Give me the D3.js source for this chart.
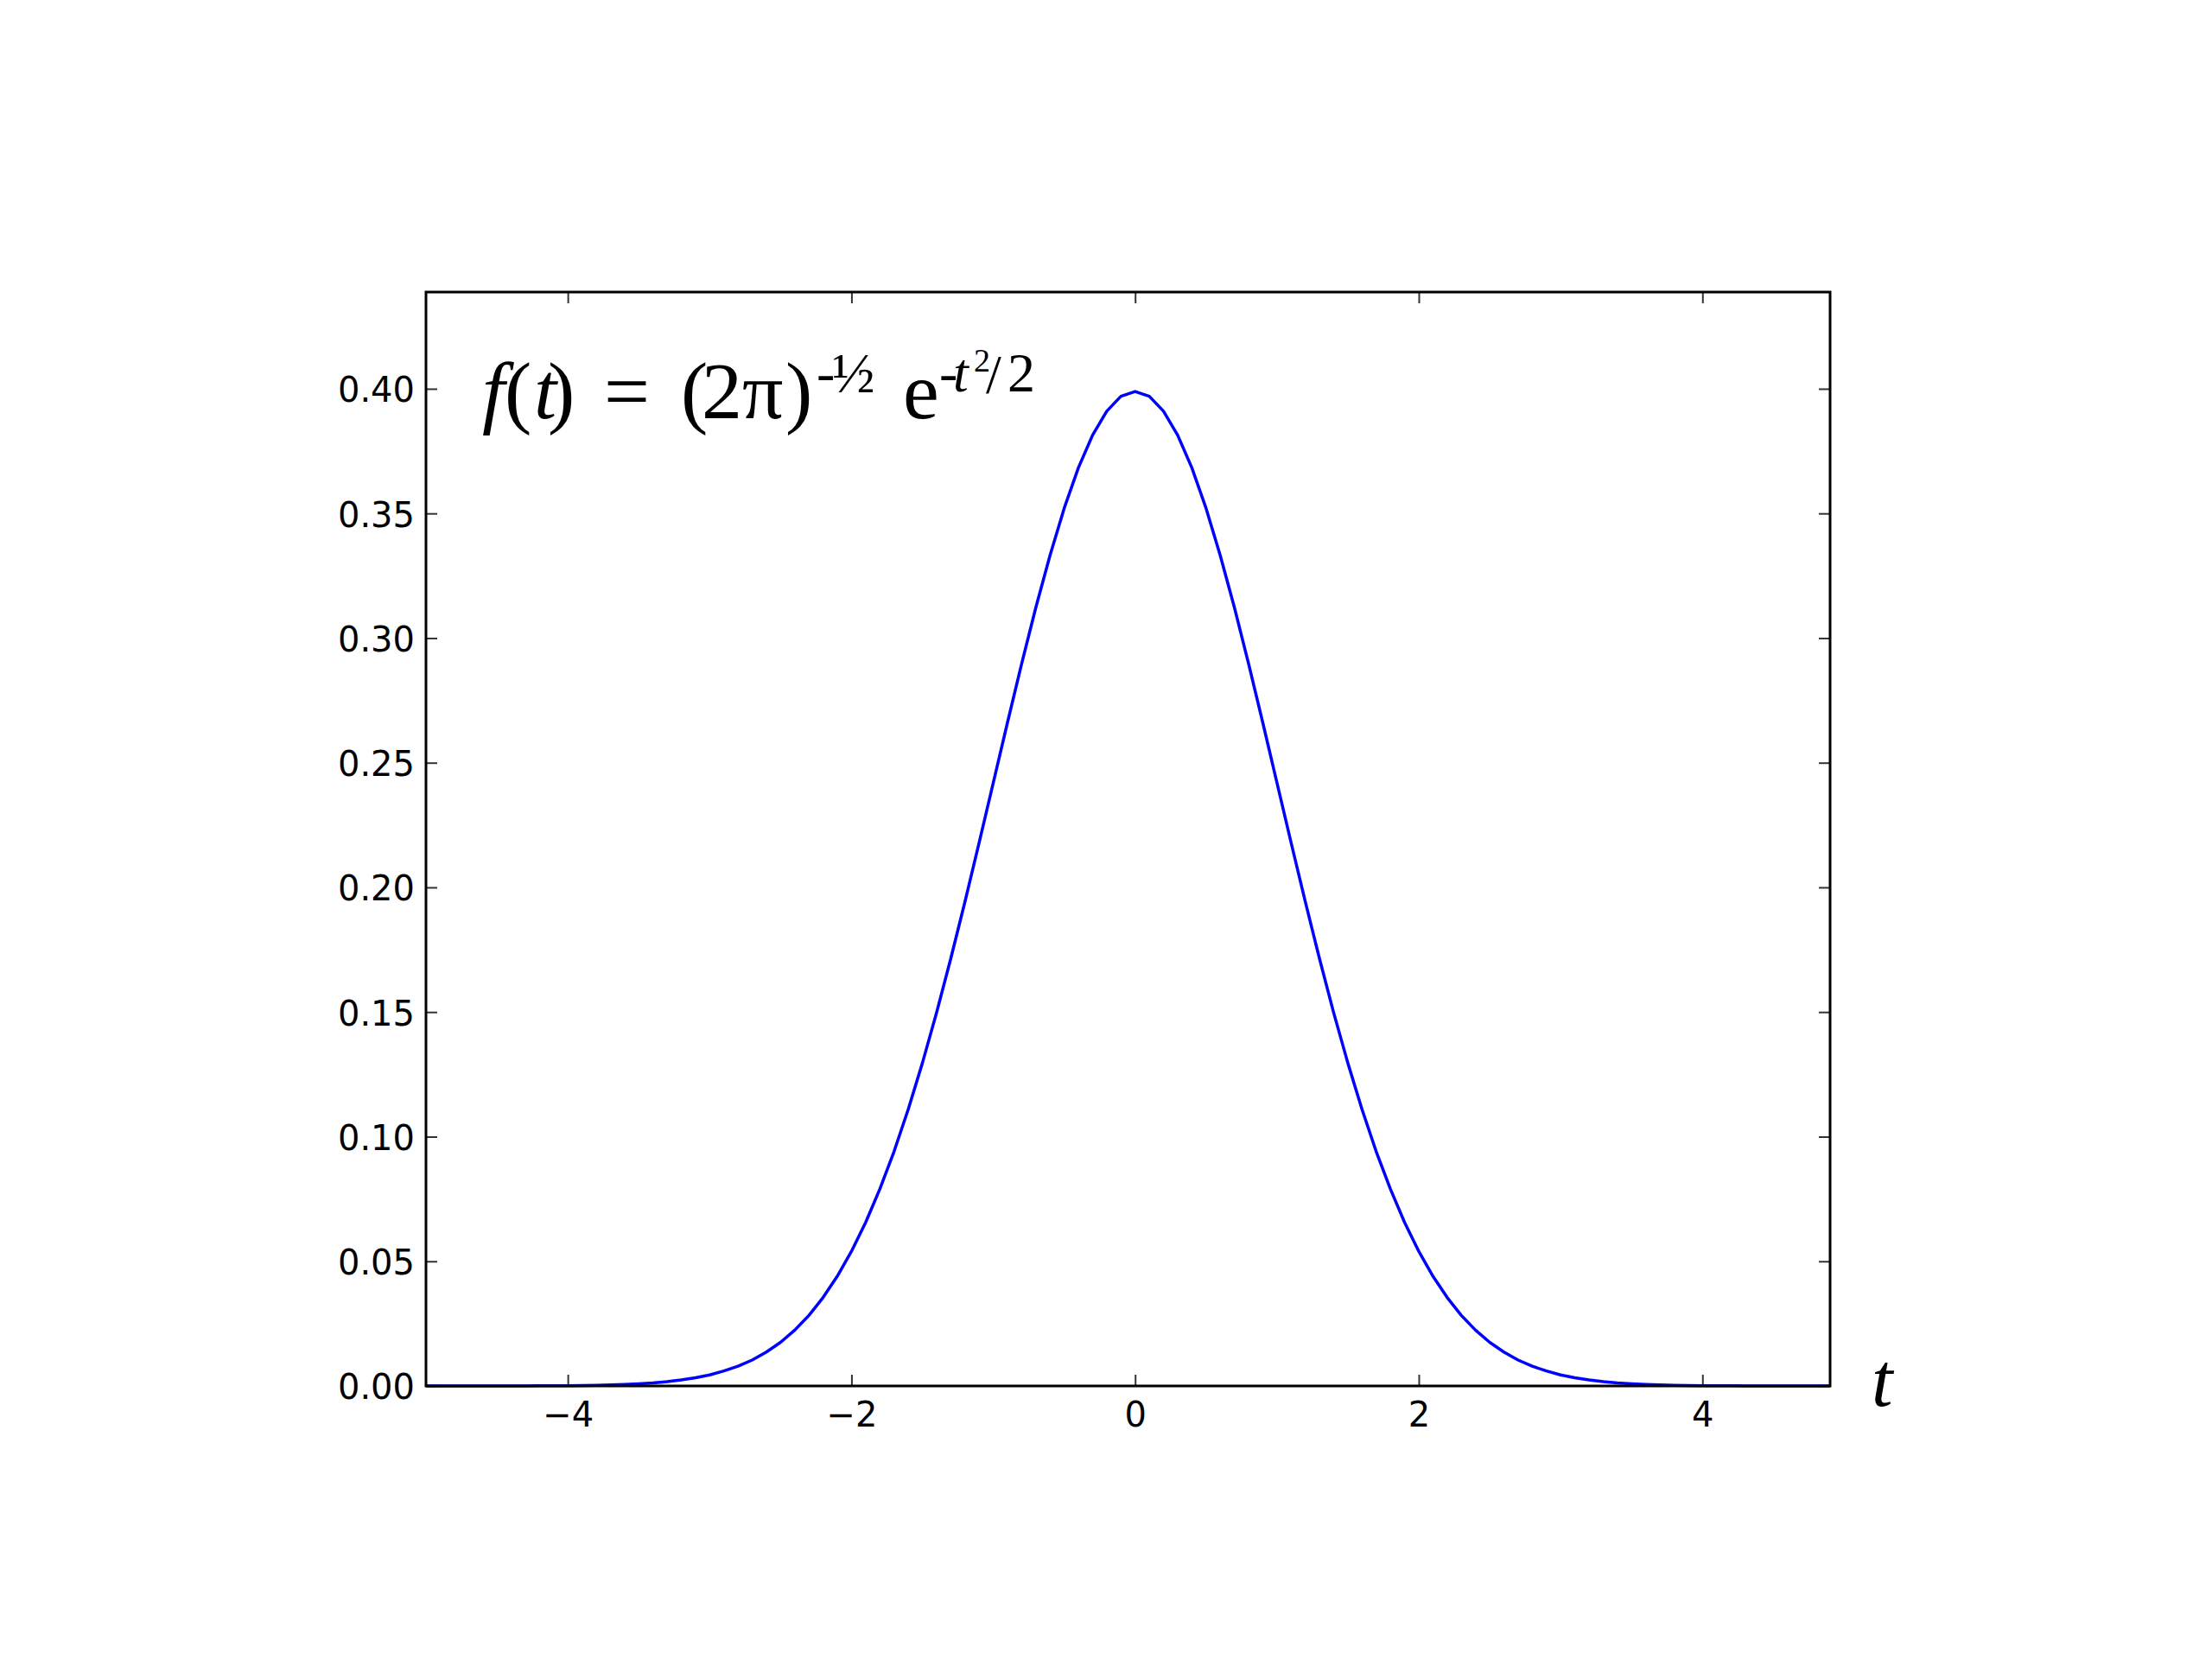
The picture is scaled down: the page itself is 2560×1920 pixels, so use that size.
<!DOCTYPE html>
<html>
<head>
<meta charset="utf-8">
<script src="https://d3js.org/d3.v7.min.js"></script>
<style>
  body { margin: 0; background: #fff; }
</style>
</head>
<body>
<svg width="2560" height="1920"></svg>
<script>
// sample points (step 0.1)
var tValues = [
  -5.0, -4.9, -4.8, -4.7, -4.6, -4.5, -4.4, -4.3, -4.2, -4.1,
  -4.0, -3.9, -3.8, -3.7, -3.6, -3.5, -3.4, -3.3, -3.2, -3.1,
  -3.0, -2.9, -2.8, -2.7, -2.6, -2.5, -2.4, -2.3, -2.2, -2.1,
  -2.0, -1.9, -1.8, -1.7, -1.6, -1.5, -1.4, -1.3, -1.2, -1.1,
  -1.0, -0.9, -0.8, -0.7, -0.6, -0.5, -0.4, -0.3, -0.2, -0.1,
   0.0,  0.1,  0.2,  0.3,  0.4,  0.5,  0.6,  0.7,  0.8,  0.9,
   1.0,  1.1,  1.2,  1.3,  1.4,  1.5,  1.6,  1.7,  1.8,  1.9,
   2.0,  2.1,  2.2,  2.3,  2.4,  2.5,  2.6,  2.7,  2.8,  2.9,
   3.0,  3.1,  3.2,  3.3,  3.4,  3.5,  3.6,  3.7,  3.8,  3.9,
   4.0,  4.1,  4.2,  4.3,  4.4,  4.5,  4.6,  4.7,  4.8,  4.9
];
var fValues = [
  0.0000, 0.0000, 0.0000, 0.0000, 0.0000, 0.0000, 0.0000, 0.0000, 0.0001, 0.0001,
  0.0001, 0.0002, 0.0003, 0.0004, 0.0006, 0.0009, 0.0012, 0.0017, 0.0024, 0.0033,
  0.0044, 0.0060, 0.0079, 0.0104, 0.0136, 0.0175, 0.0224, 0.0283, 0.0355, 0.0440,
  0.0540, 0.0656, 0.0790, 0.0940, 0.1109, 0.1295, 0.1497, 0.1714, 0.1942, 0.2179,
  0.2420, 0.2661, 0.2897, 0.3123, 0.3332, 0.3521, 0.3683, 0.3814, 0.3910, 0.3970,
  0.3989, 0.3970, 0.3910, 0.3814, 0.3683, 0.3521, 0.3332, 0.3123, 0.2897, 0.2661,
  0.2420, 0.2179, 0.1942, 0.1714, 0.1497, 0.1295, 0.1109, 0.0940, 0.0790, 0.0656,
  0.0540, 0.0440, 0.0355, 0.0283, 0.0224, 0.0175, 0.0136, 0.0104, 0.0079, 0.0060,
  0.0044, 0.0033, 0.0024, 0.0017, 0.0012, 0.0009, 0.0006, 0.0004, 0.0003, 0.0002,
  0.0001, 0.0001, 0.0001, 0.0000, 0.0000, 0.0000, 0.0000, 0.0000, 0.0000, 0.0000
];
var xTicks = [-4, -2, 0, 2, 4];
var yTicks = [0.00, 0.05, 0.10, 0.15, 0.20, 0.25, 0.30, 0.35, 0.40];
var xDomain = [-5.0, 4.9];
var yDomain = [0, 0.4388];

var svg = d3.select("svg");
var plotLeft = 493, plotRight = 2118, plotTop = 338, plotBottom = 1604;

var x = d3.scaleLinear().domain(xDomain).range([plotLeft, plotRight]);
var y = d3.scaleLinear().domain(yDomain).range([plotBottom, plotTop]);

// curve
var line = d3.line()
    .x(function (d, i) { return x(tValues[i]); })
    .y(function (d) { return y(d); });

svg.append("path")
    .datum(fValues)
    .attr("fill", "none")
    .attr("stroke", "#0000ff")
    .attr("stroke-width", 3.5)
    .attr("stroke-linejoin", "round")
    .attr("d", line);

// axes, ticks pointing inward on all four sides
function styleAxis(g, labels) {
  g.select(".domain").remove();
  g.selectAll(".tick line").attr("stroke", "#333").attr("stroke-width", 2);
  g.selectAll(".tick text")
      .attr("fill", "#000")
      .attr("font-family", "'DejaVu Sans', sans-serif")
      .attr("font-size", 40);
  if (!labels) g.selectAll(".tick text").remove();
}

svg.append("g")
    .attr("transform", "translate(0," + plotBottom + ")")
    .call(d3.axisBottom(x).tickValues(xTicks).tickSize(-13).tickPadding(19))
    .call(styleAxis, true);
svg.append("g")
    .attr("transform", "translate(0," + plotTop + ")")
    .call(d3.axisTop(x).tickValues(xTicks).tickSize(-13))
    .call(styleAxis, false);
svg.append("g")
    .attr("class", "yaxis")
    .attr("transform", "translate(" + plotLeft + ",0)")
    .call(d3.axisLeft(y).tickValues(yTicks).tickFormat(d3.format(".2f")).tickSize(-13).tickPadding(13))
    .call(styleAxis, true);
svg.append("g")
    .attr("transform", "translate(" + plotRight + ",0)")
    .call(d3.axisRight(y).tickValues(yTicks).tickSize(-13))
    .call(styleAxis, false);

svg.selectAll(".yaxis .tick text").attr("dy", "0.37em");

// frame
svg.append("rect")
    .attr("x", plotLeft).attr("y", plotTop)
    .attr("width", plotRight - plotLeft).attr("height", plotBottom - plotTop)
    .attr("fill", "none")
    .attr("stroke", "#000")
    .attr("stroke-width", 3);

// formula f(t) = (2pi)^-1/2 e^-t^2/2
var parts = [
  { s: "f",  x: 558,  y: 484, size: 94, it: true },
  { s: "(",  x: 584,  y: 484, size: 94 },
  { s: "t",  x: 618,  y: 484, size: 94, it: true },
  { s: ")",  x: 634,  y: 484, size: 94 },
  { s: "=",  x: 699,  y: 484, size: 94 },
  { s: "(",  x: 788,  y: 484, size: 94 },
  { s: "2π", x: 812,  y: 484, size: 94 },
  { s: ")",  x: 909,  y: 484, size: 94 },
  { s: "-",  x: 945,  y: 453, size: 64 },
  { s: "½",  x: 963,  y: 454, size: 66 },
  { s: "e",  x: 1045, y: 484, size: 94 },
  { s: "-",  x: 1087, y: 453, size: 64 },
  { s: "t",  x: 1103, y: 453, size: 64, it: true },
  { s: "2",  x: 1127, y: 430, size: 38 },
  { s: "/",  x: 1141, y: 455, size: 64 },
  { s: "2",  x: 1166, y: 453, size: 64 }
];
var formula = svg.append("text")
    .attr("font-family", "'Liberation Serif', serif")
    .attr("fill", "#000");
formula.selectAll("tspan")
    .data(parts)
    .enter().append("tspan")
    .attr("x", function (d) { return d.x; })
    .attr("y", function (d) { return d.y; })
    .attr("font-size", function (d) { return d.size; })
    .attr("font-style", function (d) { return d.it ? "italic" : "normal"; })
    .text(function (d) { return d.s; });

// x axis label
svg.append("text")
    .attr("x", 2166)
    .attr("y", 1627)
    .attr("font-family", "'Liberation Serif', serif")
    .attr("font-style", "italic")
    .attr("font-size", 88)
    .text("t");
</script>
</body>
</html>
